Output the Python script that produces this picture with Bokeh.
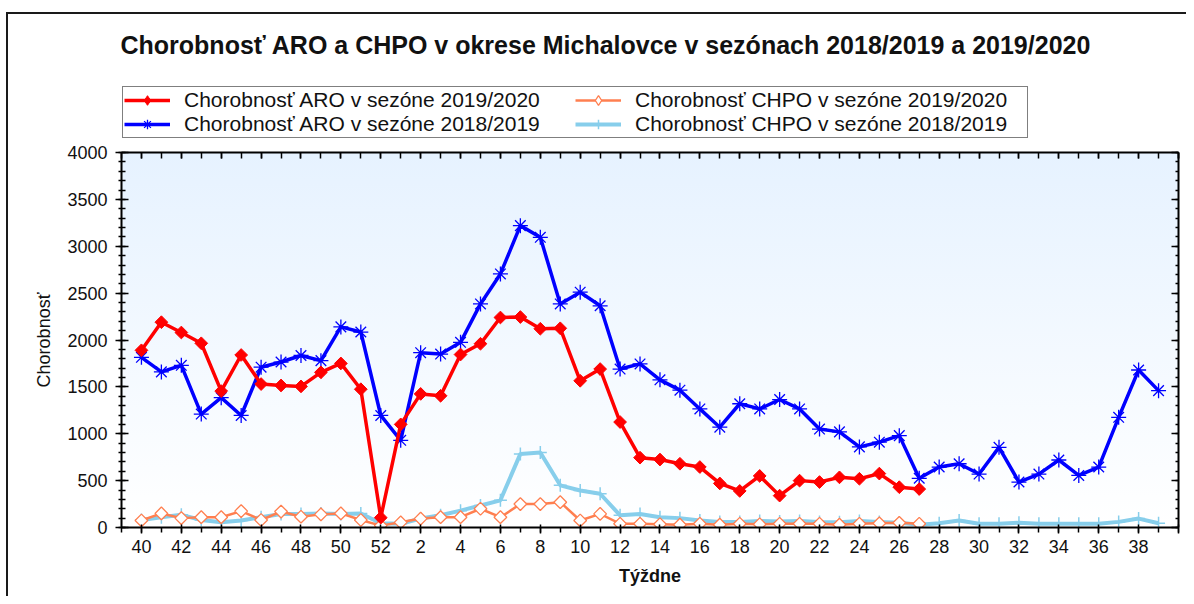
from bokeh.plotting import figure
from bokeh.layouts import column
from bokeh.models import (LinearAxis, SingleIntervalTicker, Legend, LegendItem,
                          Range1d, ColumnDataSource, CustomJSTickFormatter)
from bokeh.embed import file_html
from bokeh.resources import INLINE
import math

# ---------------- data ----------------
TITLE = "Chorobnosť ARO a CHPO v okrese Michalovce v sezónach 2018/2019 a 2019/2020"
X_LABEL = "Týždne"
Y_LABEL = "Chorobnosť"

WEEKS = list(range(40, 53)) + list(range(1, 40))

NAME_ARO_1920 = "Chorobnosť ARO v sezóne 2019/2020"
NAME_ARO_1819 = "Chorobnosť ARO v sezóne 2018/2019"
NAME_CHPO_1920 = "Chorobnosť CHPO v sezóne 2019/2020"
NAME_CHPO_1819 = "Chorobnosť CHPO v sezóne 2018/2019"

# season 2019/2020 : week 40 .. week 27
aro_1920 = [1890, 2190, 2080, 1965, 1455, 1840, 1530, 1515, 1505, 1655, 1750, 1475, 105,
            1100, 1425, 1405, 1845, 1960, 2240, 2245, 2120, 2125, 1565, 1690, 1125, 745,
            725, 680, 645, 470, 390, 550, 340, 500, 485, 535, 520, 575, 430, 410]
chpo_1920 = [75, 150, 100, 110, 110, 175, 80, 170, 115, 140, 150, 80, 20,
             55, 95, 110, 110, 200, 110, 250, 250, 270, 75, 145, 40, 40,
             35, 30, 40, 30, 40, 35, 40, 40, 40, 30, 40, 45, 50, 40]

# season 2018/2019 : week 40 .. week 39
aro_1819 = [1815, 1660, 1730, 1210, 1385, 1195, 1710, 1765, 1835, 1780, 2140, 2085, 1195,
            930, 1865, 1850, 1975, 2385, 2705, 3220, 3095, 2385, 2510, 2365, 1690, 1745,
            1575, 1465, 1265, 1070, 1320, 1265, 1365, 1265, 1050, 1020, 860, 910, 980,
            525, 645, 680, 570, 855, 485, 570, 720, 555, 645, 1175, 1680, 1460]
chpo_1819 = [80, 110, 135, 80, 55, 75, 110, 145, 145, 150, 145, 150, 45,
             40, 95, 130, 180, 235, 290, 785, 800, 450, 395, 360, 130, 145,
             110, 100, 75, 60, 60, 70, 65, 70, 60, 55, 70, 60, 50,
             30, 45, 75, 40, 40, 50, 40, 40, 40, 40, 60, 95, 45]

# ---------------- styles ----------------
FONT = "Liberation Sans"
TXT = "#111111"
RED = "#ff0000"
BLUE = "#0000ff"
CORAL = "#ff7f50"
SKY = "#87ceeb"
FRAME_LINE = "#1a1a1a"

src_aro_1920 = ColumnDataSource(dict(x=list(range(len(aro_1920))), y=aro_1920))
src_chpo_1920 = ColumnDataSource(dict(x=list(range(len(chpo_1920))), y=chpo_1920))
src_aro_1819 = ColumnDataSource(dict(x=list(range(len(aro_1819))), y=aro_1819))
src_chpo_1819 = ColumnDataSource(dict(x=list(range(len(chpo_1819))), y=chpo_1819))


def draw_series(fig, diamond_marker=False):
    r = {}
    if diamond_marker:
        dmk = dict(marker="diamond", size=15)
    else:
        dmk = dict(marker="square", angle=math.pi / 4, size=9)
    r["c19"] = [fig.line("x", "y", source=src_chpo_1819, line_color=SKY, line_width=4),
                fig.scatter("x", "y", source=src_chpo_1819, marker="cross", size=13,
                            line_color=SKY, line_width=1.5)]
    r["c20"] = [fig.line("x", "y", source=src_chpo_1920, line_color=CORAL, line_width=2.5),
                fig.scatter("x", "y", source=src_chpo_1920, fill_color="white",
                            line_color=CORAL, line_width=1.3, **dmk)]
    r["a19"] = [fig.line("x", "y", source=src_aro_1819, line_color=BLUE, line_width=3.5),
                fig.scatter("x", "y", source=src_aro_1819, marker="asterisk", size=15,
                            line_color=BLUE, line_width=1.3)]
    r["a20"] = [fig.line("x", "y", source=src_aro_1920, line_color=RED, line_width=3.5),
                fig.scatter("x", "y", source=src_aro_1920, fill_color=RED,
                            line_color=RED, line_width=1, **dmk)]
    return r

# ---------------- header (title + legend) ----------------
W = 1186
HEADER_H = 140
header = figure(width=W, height=HEADER_H, output_backend="svg", toolbar_location=None,
                x_axis_type=None, y_axis_type=None,
                x_range=Range1d(-1, 52), y_range=Range1d(-3000, -2000),
                min_border_left=121, min_border_right=8, min_border_top=63,
                min_border_bottom=0)
header.background_fill_alpha = 0
header.border_fill_alpha = 0
# thin outer frame of the picture (top and left edge), drawn as CSS decoration
header.styles = {
    "background-color": "white",
    "background-image": f"linear-gradient({FRAME_LINE}, {FRAME_LINE}), "
                        f"linear-gradient({FRAME_LINE}, {FRAME_LINE})",
    "background-repeat": "no-repeat",
    "background-position": "6px 12px, 6px 12px",
    "background-size": f"{W - 6}px 2px, 2px {HEADER_H}px",
}
header.outline_line_color = None
header.xgrid.visible = False
header.ygrid.visible = False
header.title.text = TITLE
header.title.align = "left"
header.title.text_font = FONT
header.title.text_font_size = "25px"
header.title.text_font_style = "bold"
header.title.text_color = TXT
header.title.offset = -1
header.title.standoff = 10

hr = draw_series(header, diamond_marker=True)
legend = Legend(items=[
    LegendItem(label=NAME_ARO_1920, renderers=hr["a20"]),
    LegendItem(label=NAME_ARO_1819, renderers=hr["a19"]),
    LegendItem(label=NAME_CHPO_1920, renderers=hr["c20"]),
    LegendItem(label=NAME_CHPO_1819, renderers=hr["c19"]),
], location=(1, 2))
legend.ncols = 2
legend.glyph_width = 46
legend.glyph_height = 24
legend.label_height = 24
legend.label_width = 391
legend.label_standoff = 14
legend.spacing = 0
legend.padding = 1
legend.margin = 0
legend.label_text_font = FONT
legend.label_text_font_size = "21px"
legend.label_text_color = TXT
legend.border_line_color = "black"
legend.border_line_width = 1.5
legend.background_fill_color = "white"
legend.background_fill_alpha = 1
header.add_layout(legend)

# ---------------- main chart ----------------
P_H = 596 - HEADER_H
TOP_B = 12
BOT_B = 69
LEFT_B = 121
RIGHT_B = 8
p = figure(width=W, height=P_H, output_backend="svg", toolbar_location=None,
           title=None, x_range=Range1d(-1, 52), y_range=Range1d(0, 4000),
           min_border_left=LEFT_B, min_border_right=RIGHT_B, min_border_top=TOP_B,
           min_border_bottom=BOT_B)
p.background_fill_alpha = 0
p.border_fill_alpha = 0
# light blue -> white gradient behind the (transparent) plot area, plus the left edge line
p.styles = {
    "background-color": "white",
    "background-image": f"linear-gradient({FRAME_LINE}, {FRAME_LINE}), "
                        "linear-gradient(to bottom, #e6f2ff, #ffffff)",
    "background-repeat": "no-repeat",
    "background-position": f"6px 0px, {LEFT_B}px {TOP_B}px",
    "background-size": f"2px {P_H}px, {W - LEFT_B - RIGHT_B}px {P_H - TOP_B - BOT_B}px",
}
p.outline_line_color = None
p.xgrid.visible = False
p.ygrid.visible = False

x_tick_labels = {i: str(WEEKS[i]) for i in range(0, len(WEEKS), 2)}
x_tick_labels[52] = ""


def style_axis(ax):
    ax.axis_line_color = "black"
    ax.axis_line_width = 2
    ax.major_tick_line_color = "black"
    ax.minor_tick_line_color = "black"
    ax.major_tick_line_width = 1.5
    ax.minor_tick_line_width = 1.5
    ax.major_label_text_font = FONT
    ax.major_label_text_font_size = "18px"
    ax.major_label_text_color = TXT
    ax.axis_label_text_font = FONT
    ax.axis_label_text_font_size = "18px"
    ax.axis_label_text_color = TXT


xa = p.xaxis[0]
xa.ticker = SingleIntervalTicker(interval=2, num_minor_ticks=2)
xa.major_label_overrides = x_tick_labels
style_axis(xa)
xa.major_tick_in = 3
xa.major_tick_out = 6
xa.minor_tick_in = 0
xa.minor_tick_out = 5
xa.major_label_standoff = 6
xa.axis_label = X_LABEL
xa.axis_label_text_font_style = "bold"
xa.axis_label_standoff = 10

ya = p.yaxis[0]
ya.ticker = SingleIntervalTicker(interval=500, num_minor_ticks=5)
style_axis(ya)
ya.major_tick_in = 7
ya.major_tick_out = 6
ya.minor_tick_in = 4
ya.minor_tick_out = 3
ya.major_label_standoff = 8
ya.axis_label = Y_LABEL
ya.axis_label_text_font_style = "normal"
ya.axis_label_standoff = 10

blank = CustomJSTickFormatter(code="return ''")

top = LinearAxis(ticker=SingleIntervalTicker(interval=2, num_minor_ticks=2), formatter=blank)
style_axis(top)
top.major_tick_in = 6
top.major_tick_out = 0
top.minor_tick_in = 6
top.minor_tick_out = 0
top.major_label_text_font_size = "1px"
top.major_label_standoff = 0
p.add_layout(top, "above")

right = LinearAxis(ticker=SingleIntervalTicker(interval=500, num_minor_ticks=5), formatter=blank)
style_axis(right)
right.major_tick_in = 7
right.major_tick_out = 0
right.minor_tick_in = 3
right.minor_tick_out = 0
right.major_label_text_font_size = "1px"
right.major_label_standoff = 0
p.add_layout(right, "right")

draw_series(p)

page = column(header, p, spacing=0)

open("out.html", "w").write(file_html(page, INLINE))
